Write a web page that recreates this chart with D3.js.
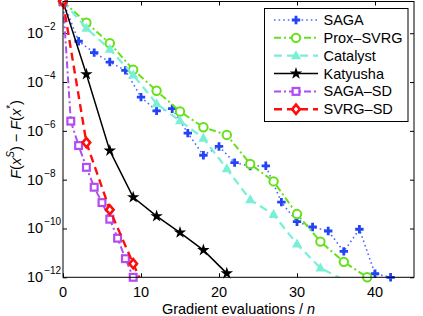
<!DOCTYPE html>
<html>
<head>
<meta charset="utf-8">
<script src="https://cdn.jsdelivr.net/npm/d3@7"></script>
<style>
  body { margin: 0; background: #fff; }
  svg { display: block; font-family: "Liberation Sans", Arial, Helvetica, sans-serif; }
</style>
</head>
<body>
<div id="chart"></div>
<script>
// DATA //

// SAGA: every 2 passes
const sagaX = [0, 2, 4, 6, 8, 10, 12, 14, 16, 18, 20, 22, 24, 26, 28, 30, 32, 34, 36, 38, 40, 42];
const sagaY = [0.2, 4.7e-3, 1.6e-3, 6.6e-4, 3.0e-4, 2.4e-5, 6.6e-6, 8.1e-6, 8.1e-7, 1.0e-7, 2.3e-7,
  5.0e-8, 3.6e-8, 3.7e-8, 1.2e-9, 1.9e-10, 1.15e-10, 7.9e-11, 1.15e-11, 9.3e-11, 1.4e-12, 1.0e-12];

// Prox-SVRG: every 3 passes
const proxX = [0, 3, 6, 9, 12, 15, 18, 21, 24, 27, 30, 33, 36, 39];
const proxY = [0.2, 2.7e-2, 3.9e-3, 3.2e-4, 4.4e-5, 6.2e-6, 1.4e-6, 6.8e-7, 4.4e-8, 8.5e-9,
  3.9e-10, 2.9e-11, 4.3e-12, 1.0e-12];

// Catalyst
const catX = [0, 3, 6, 9, 12, 15, 18, 21, 24, 27, 30, 33, 36];
const catY = [0.2, 1.6e-2, 2.2e-3, 1.95e-4, 1.3e-5, 2.6e-6, 5.0e-7, 2.8e-8, 1.5e-9, 3.7e-10,
  2.3e-11, 2.4e-12, 7.9e-13];

// Katyusha
const katX = [0, 3, 6, 9, 12, 15, 18, 21];
const katY = [0.2, 2.1e-4, 1.55e-7, 1.9e-9, 3.2e-10, 6.8e-11, 1.3e-11, 1.45e-12];

// SAGA-SD: every pass
const sagaSdX = [0, 1, 2, 3, 4, 5, 6, 7, 8, 9];
const sagaSdY = [0.2, 2.5e-6, 2.5e-7, 3.2e-8, 4.9e-9, 1.15e-9, 2.4e-10, 4.0e-11, 5.8e-12, 1.0e-12];

// SVRG-SD
const svrgSdX = [0, 3, 6, 9, 12];
const svrgSdY = [0.2, 3.3e-7, 5.8e-10, 3.6e-12, 2.5e-14];

const xTicks = [0, 10, 20, 30, 40];
const yTickExps = [-12, -10, -8, -6, -4, -2];

// SERIES STYLES //

const series = [
  { name: "SAGA", xs: sagaX, ys: sagaY, color: "#2244f6", lineColor: "#4f6bff", width: 1.6, dash: "1.6,3", marker: "plus" },
  { name: "Prox\u2013SVRG", xs: proxX, ys: proxY, color: "#66e01a", lineColor: "#66e01a", width: 2, dash: "7,3,2,3", marker: "circle" },
  { name: "Catalyst", xs: catX, ys: catY, color: "#78f0d6", lineColor: "#78f0d6", width: 2.2, dash: "8,5", marker: "triangle" },
  { name: "Katyusha", xs: katX, ys: katY, color: "#000000", lineColor: "#000000", width: 1.5, dash: null, marker: "star" },
  { name: "SAGA\u2013SD", xs: sagaSdX, ys: sagaSdY, color: "#b04cf2", lineColor: "#b04cf2", width: 2, dash: "7,3,2,3", marker: "square" },
  { name: "SVRG\u2013SD", xs: svrgSdX, ys: svrgSdY, color: "#ff0d0d", lineColor: "#ff0d0d", width: 2.4, dash: "8,5", marker: "diamond" },
];

// DIMENSIONS //

const dimensions = { width: 423, height: 316 };
const plot = { left: 63, right: 414, top: 1.5, bottom: 277.3 };

const xScale = d3.scaleLinear().domain([0, 45]).range([plot.left, plot.right]);
const yScale = d3.scaleLog().domain([1e-12, Math.pow(10, -0.7)]).range([plot.bottom, plot.top]);

const svg = d3
  .select("#chart")
  .append("svg")
  .attr("width", dimensions.width)
  .attr("height", dimensions.height);

svg.append("defs")
  .append("clipPath")
  .attr("id", "clip")
  .append("rect")
  .attr("x", plot.left)
  .attr("y", plot.top)
  .attr("width", plot.right - plot.left)
  .attr("height", plot.bottom - plot.top);

// AXES (ticks point inward, box all round) //

const yTickValues = yTickExps.map((e) => Math.pow(10, e));

svg.append("g")
  .attr("transform", `translate(0,${plot.bottom})`)
  .call(d3.axisBottom(xScale).tickValues(xTicks).tickSize(-4).tickSizeOuter(0).tickFormat(""));
svg.append("g")
  .attr("transform", `translate(0,${plot.top})`)
  .call(d3.axisTop(xScale).tickValues(xTicks).tickSize(-4).tickSizeOuter(0).tickFormat(""));
svg.append("g")
  .attr("transform", `translate(${plot.left},0)`)
  .call(d3.axisLeft(yScale).tickValues(yTickValues).tickSize(-4).tickSizeOuter(0).tickFormat(""));
svg.append("g")
  .attr("transform", `translate(${plot.right},0)`)
  .call(d3.axisRight(yScale).tickValues(yTickValues).tickSize(-4).tickSizeOuter(0).tickFormat(""));
svg.selectAll(".domain").remove();
svg.selectAll(".tick line").attr("stroke", "#000");

// Tick labels
svg.append("g")
  .selectAll("text")
  .data(xTicks)
  .join("text")
  .attr("x", (d) => xScale(d))
  .attr("y", 297)
  .attr("text-anchor", "middle")
  .attr("font-size", 14.5)
  .text((d) => d);

const yLabels = svg.append("g")
  .selectAll("text")
  .data(yTickExps)
  .join("text")
  .attr("x", 27)
  .attr("y", (d) => yScale(Math.pow(10, d)) + 5)
  .attr("font-size", 14.5);
yLabels.append("tspan").text("10");
yLabels.append("tspan")
  .attr("dx", 1)
  .attr("dy", -8)
  .attr("font-size", 10)
  .text((d) => "\u2212" + Math.abs(d));

// Axis titles
const xTitle = svg.append("text")
  .attr("x", (plot.left + plot.right) / 2)
  .attr("y", 313.5)
  .attr("text-anchor", "middle")
  .attr("font-size", 14.5);
xTitle.append("tspan").text("Gradient evaluations / ");
xTitle.append("tspan").attr("font-style", "italic").text("n");

const yTitle = svg.append("text")
  .attr("transform", `translate(21,${(plot.top + plot.bottom) / 2}) rotate(-90)`)
  .attr("text-anchor", "middle")
  .attr("font-size", 14.5);
yTitle.append("tspan").attr("font-style", "italic").text("F");
yTitle.append("tspan").text("(");
yTitle.append("tspan").attr("font-style", "italic").text("x");
yTitle.append("tspan").attr("font-style", "italic").attr("font-size", 10).attr("dy", -7).text("S");
yTitle.append("tspan").attr("dy", 7).text(")  \u2212  ");
yTitle.append("tspan").attr("font-style", "italic").text("F");
yTitle.append("tspan").text("(");
yTitle.append("tspan").attr("font-style", "italic").text("x");
yTitle.append("tspan").attr("font-size", 10).attr("dy", -7).text("*");
yTitle.append("tspan").attr("dy", 7).text(")");

// MARKERS //

function drawMarker(g, type, color) {
  if (type === "plus") {
    g.append("path").attr("d", "M-4.2,0H4.2M0,-4.2V4.2")
      .attr("stroke", color).attr("stroke-width", 2.8).attr("fill", "none");
  } else if (type === "circle") {
    g.append("circle").attr("r", 4.2)
      .attr("stroke", color).attr("stroke-width", 2).attr("fill", "#fff");
  } else if (type === "triangle") {
    g.append("path").attr("d", "M0,-5.5L5,3.5L-5,3.5Z").attr("fill", color);
  } else if (type === "star") {
    g.append("path").attr("d", d3.symbol(d3.symbolStar, 48)()).attr("fill", color);
  } else if (type === "square") {
    g.append("rect").attr("x", -3.4).attr("y", -3.4).attr("width", 6.8).attr("height", 6.8)
      .attr("stroke", color).attr("stroke-width", 2.2).attr("fill", "#fff");
  } else if (type === "diamond") {
    g.append("path").attr("d", "M0,-4.6L3.8,0L0,4.6L-3.8,0Z")
      .attr("stroke", color).attr("stroke-width", 2.6).attr("fill", "#fff")
      .attr("stroke-linejoin", "miter");
  }
}

// LINES //

const line = d3.line()
  .x((d) => xScale(d.x))
  .y((d) => yScale(d.y));

series.forEach((s) => {
  const pts = s.xs.map((x, i) => ({ x: x, y: s.ys[i] }));
  svg.append("path")
    .datum(pts)
    .attr("clip-path", "url(#clip)")
    .attr("d", line)
    .attr("fill", "none")
    .attr("stroke", s.lineColor)
    .attr("stroke-width", s.width)
    .attr("stroke-dasharray", s.dash);
  // markers outside the y range are not drawn
  pts.filter((p) => p.y >= 1e-12 * 0.999).forEach((p) => {
    const g = svg.append("g").attr("transform", `translate(${xScale(p.x)},${yScale(p.y)})`);
    drawMarker(g, s.marker, s.color);
  });
});

// Box round the axes
svg.append("rect")
  .attr("x", plot.left)
  .attr("y", plot.top)
  .attr("width", plot.right - plot.left)
  .attr("height", plot.bottom - plot.top)
  .attr("fill", "none")
  .attr("stroke", "#000")
  .attr("stroke-width", 1);

// LEGEND //

const legend = { left: 264.5, top: 8.5, width: 143.5, height: 113, rowStart: 20, rowStep: 17.85 };
svg.append("rect")
  .attr("x", legend.left)
  .attr("y", legend.top)
  .attr("width", legend.width)
  .attr("height", legend.height)
  .attr("fill", "#fff")
  .attr("stroke", "#000")
  .attr("stroke-width", 1);

series.forEach((s, i) => {
  const yRow = legend.rowStart + i * legend.rowStep;
  svg.append("line")
    .attr("x1", 274).attr("x2", 318)
    .attr("y1", yRow).attr("y2", yRow)
    .attr("stroke", s.lineColor)
    .attr("stroke-width", s.width)
    .attr("stroke-dasharray", s.dash);
  const g = svg.append("g").attr("transform", `translate(296,${yRow})`);
  drawMarker(g, s.marker, s.color);
  svg.append("text")
    .attr("x", 323.5)
    .attr("y", yRow + 5)
    .attr("font-size", 14.5)
    .text(s.name);
});
</script>
</body>
</html>
